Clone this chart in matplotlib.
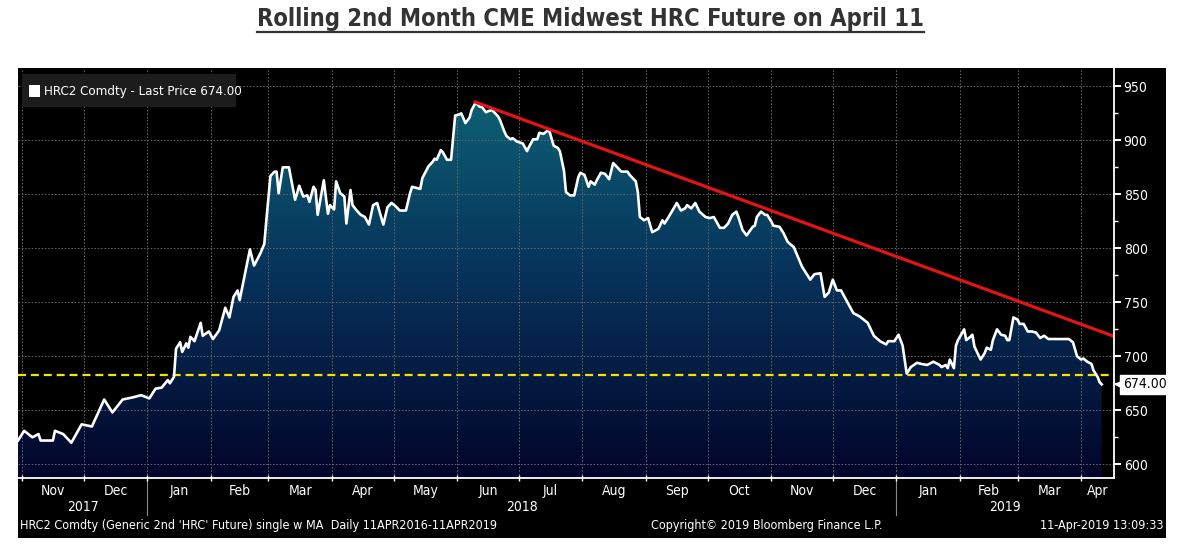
import matplotlib.pyplot as plt
import matplotlib.dates as mdates
import matplotlib.transforms as mtransforms
import numpy as np
import pandas as pd
from matplotlib.colors import LinearSegmentedColormap
from matplotlib.patches import Polygon, Rectangle
from matplotlib.lines import Line2D

plt.rcParams['font.family'] = ['DejaVu Sans']
plt.rcParams['font.stretch'] = 'condensed'

# HRC2 Comdty last price
dates = [
    '2017-10-30', '2017-11-02', '2017-11-06', '2017-11-09', '2017-11-10', '2017-11-16', '2017-11-17',
    '2017-11-21', '2017-11-25', '2017-11-30', '2017-12-05', '2017-12-11', '2017-12-15', '2017-12-20',
    '2017-12-25', '2017-12-29', '2018-01-02', '2018-01-05', '2018-01-08', '2018-01-11', '2018-01-12',
    '2018-01-14', '2018-01-15', '2018-01-17', '2018-01-18', '2018-01-20', '2018-01-21', '2018-01-22',
    '2018-01-24', '2018-01-27', '2018-01-28', '2018-01-31', '2018-02-02', '2018-02-05', '2018-02-08',
    '2018-02-10', '2018-02-12', '2018-02-14', '2018-02-15', '2018-02-20', '2018-02-22', '2018-02-25',
    '2018-02-27', '2018-02-28', '2018-03-02', '2018-03-04', '2018-03-05', '2018-03-06', '2018-03-08',
    '2018-03-11', '2018-03-14', '2018-03-15', '2018-03-16', '2018-03-18', '2018-03-20', '2018-03-21',
    '2018-03-23', '2018-03-24', '2018-03-25', '2018-03-28', '2018-03-30', '2018-03-31', '2018-04-02',
    '2018-04-03', '2018-04-05', '2018-04-07', '2018-04-08', '2018-04-10', '2018-04-11', '2018-04-13',
    '2018-04-15', '2018-04-17', '2018-04-19', '2018-04-21', '2018-04-23', '2018-04-24', '2018-04-26',
    '2018-04-28', '2018-04-30', '2018-05-02', '2018-05-04', '2018-05-07', '2018-05-09', '2018-05-10',
    '2018-05-14', '2018-05-15', '2018-05-18', '2018-05-20', '2018-05-21', '2018-05-22', '2018-05-24',
    '2018-05-25', '2018-05-27', '2018-05-29', '2018-05-31', '2018-06-02', '2018-06-03', '2018-06-05',
    '2018-06-07', '2018-06-08', '2018-06-10', '2018-06-12', '2018-06-13', '2018-06-15', '2018-06-16',
    '2018-06-18', '2018-06-21', '2018-06-22', '2018-06-24', '2018-06-25', '2018-06-27', '2018-06-28',
    '2018-06-30', '2018-07-03', '2018-07-05', '2018-07-06', '2018-07-08', '2018-07-10', '2018-07-11',
    '2018-07-13', '2018-07-15', '2018-07-16', '2018-07-18', '2018-07-20', '2018-07-21', '2018-07-23',
    '2018-07-24', '2018-07-26', '2018-07-28', '2018-07-30', '2018-07-31', '2018-08-02', '2018-08-04',
    '2018-08-05', '2018-08-07', '2018-08-08', '2018-08-10', '2018-08-12', '2018-08-14', '2018-08-16',
    '2018-08-18', '2018-08-20', '2018-08-23', '2018-08-24', '2018-08-27', '2018-08-28', '2018-08-29',
    '2018-08-31', '2018-09-02', '2018-09-04', '2018-09-07', '2018-09-09', '2018-09-10', '2018-09-12',
    '2018-09-16', '2018-09-18', '2018-09-20', '2018-09-21', '2018-09-23', '2018-09-25', '2018-09-27',
    '2018-09-30', '2018-10-02', '2018-10-04', '2018-10-07', '2018-10-09', '2018-10-11', '2018-10-13',
    '2018-10-15', '2018-10-16', '2018-10-18', '2018-10-20', '2018-10-23', '2018-10-24', '2018-10-25',
    '2018-10-27', '2018-10-29', '2018-10-30', '2018-11-01', '2018-11-02', '2018-11-05', '2018-11-07',
    '2018-11-09', '2018-11-12', '2018-11-14', '2018-11-16', '2018-11-19', '2018-11-20', '2018-11-22',
    '2018-11-25', '2018-11-27', '2018-11-29', '2018-12-01', '2018-12-03', '2018-12-05', '2018-12-09',
    '2018-12-11', '2018-12-14', '2018-12-18', '2018-12-21', '2018-12-24', '2018-12-27', '2018-12-28',
    '2018-12-31', '2019-01-02', '2019-01-04', '2019-01-06', '2019-01-08', '2019-01-11', '2019-01-13',
    '2019-01-16', '2019-01-19', '2019-01-22', '2019-01-23', '2019-01-25', '2019-01-26', '2019-01-27',
    '2019-01-29', '2019-01-30', '2019-01-31', '2019-02-03', '2019-02-04', '2019-02-06', '2019-02-07',
    '2019-02-08', '2019-02-11', '2019-02-13', '2019-02-14', '2019-02-16', '2019-02-17', '2019-02-19',
    '2019-02-21', '2019-02-23', '2019-02-24', '2019-02-25', '2019-02-27', '2019-03-01', '2019-03-02',
    '2019-03-04', '2019-03-06', '2019-03-08', '2019-03-10', '2019-03-12', '2019-03-14', '2019-03-16',
    '2019-03-20', '2019-03-23', '2019-03-26', '2019-03-28', '2019-03-30', '2019-04-01', '2019-04-02',
    '2019-04-04', '2019-04-06', '2019-04-07', '2019-04-09', '2019-04-10', '2019-04-11',
]
prices = [
    622, 631, 625, 628, 622, 622, 631,
    628, 620, 637, 635, 660, 648, 660,
    662, 664, 661, 670, 671, 678, 675,
    681, 707, 713, 704, 712, 708, 718,
    714, 731, 719, 723, 716, 724, 745,
    736, 755, 761, 752, 799, 784, 795,
    804, 826, 867, 871, 871, 851, 875,
    875, 845, 851, 858, 848, 849, 843,
    857, 854, 831, 863, 832, 840, 836,
    862, 851, 848, 823, 854, 840, 835,
    831, 829, 822, 840, 842, 835, 822,
    838, 842, 839, 835, 835, 851, 857,
    855, 865, 876, 880, 883, 882, 891,
    889, 882, 882, 923, 924, 925, 916,
    921, 928, 935, 931, 931, 926, 927,
    928, 922, 918, 908, 904, 901, 902,
    899, 897, 890, 894, 901, 901, 907,
    906, 909, 908, 895, 893, 890, 872,
    852, 849, 849, 866, 870, 868, 857,
    862, 859, 863, 870, 869, 864, 879,
    875, 871, 871, 868, 862, 852, 829,
    826, 828, 815, 818, 826, 823, 829,
    842, 835, 837, 840, 837, 842, 834,
    829, 828, 829, 819, 819, 823, 831,
    834, 829, 817, 812, 820, 821, 829,
    834, 831, 831, 825, 821, 820, 814,
    806, 801, 792, 783, 774, 771, 776,
    777, 755, 759, 771, 761, 761, 747,
    740, 737, 731, 719, 714, 711, 714,
    714, 720, 710, 684, 690, 694, 693,
    692, 695, 692, 690, 692, 689, 697,
    689, 710, 715, 725, 715, 718, 720,
    709, 697, 703, 708, 706, 715, 725,
    720, 719, 715, 715, 736, 734, 730,
    730, 723, 723, 722, 717, 719, 716,
    716, 716, 716, 713, 700, 697, 698,
    695, 693, 687, 681, 676, 674,
]

trend_dates = ['2018-06-09', '2019-04-17']
trend_prices = [936, 718.5]
support_level = 683
last_price = 674.00

x_start, x_end = '2017-10-30', '2019-04-17'
y_min, y_max = 587.3, 967
y_ticks = [600, 650, 700, 750, 800, 850, 900, 950]
y_minor = [625, 675, 725, 775, 825, 875, 925]

title = 'Rolling 2nd Month CME Midwest HRC Future on April 11'
legend_text = 'HRC2 Comdty - Last Price 674.00'
footer_left = "HRC2 Comdty (Generic 2nd 'HRC' Future) single w MA  Daily 11APR2016-11APR2019"
footer_mid = 'Copyright\u00a9 2019 Bloomberg Finance L.P.'
footer_right = '11-Apr-2019 13:09:33'

W, H = 1181, 548


def fx(px):
    return px / W


def fy(py):
    return 1 - py / H


fig = plt.figure(figsize=(W / 100, H / 100), dpi=100)
fig.patch.set_facecolor('white')

# black terminal panel behind the chart
fig.patches.append(Rectangle((fx(18), fy(538)), fx(1166) - fx(18), fy(68) - fy(538),
                             transform=fig.transFigure, facecolor='black', edgecolor='none', zorder=-5))

ax = fig.add_axes([fx(18), fy(478), fx(1114) - fx(18), fy(68) - fy(478)])
ax.set_facecolor('black')

x = mdates.date2num(pd.to_datetime(dates))
xl = mdates.date2num(pd.to_datetime([x_start, x_end]))

# gradient area under the price line
cmap = LinearSegmentedColormap.from_list('bbg', ['#03042a', '#07325a', '#0e6878'])
grad = np.linspace(0, 1, 256).reshape(-1, 1)
im = ax.imshow(grad, cmap=cmap, origin='lower', aspect='auto',
               extent=[x[0], x[-1], y_min, y_max], zorder=1)
poly = Polygon(np.column_stack([np.r_[x, x[-1], x[0]], np.r_[prices, y_min, y_min]]),
               closed=True, facecolor='none', edgecolor='none')
ax.add_patch(poly)
im.set_clip_path(poly)

ax.plot(x, prices, color='white', lw=1.9, zorder=4, solid_joinstyle='round')
ax.axhline(support_level, color='#f2e600', lw=1.6, dashes=(3.6, 2.2), zorder=3)
ax.plot(mdates.date2num(pd.to_datetime(trend_dates)), trend_prices, color='#e41414', lw=2.3,
        zorder=5, solid_capstyle='butt')

ax.set_xlim(xl[0], xl[1])
ax.set_ylim(y_min, y_max)

# month boundaries and centred month labels
month_starts = pd.date_range('2017-11-01', '2019-04-01', freq='MS')
ms = mdates.date2num(month_starts)
centers = (ms + np.r_[ms[1:], xl[1]]) / 2
ax.set_xticks(ms)
ax.set_xticklabels([])
ax.set_xticks(centers, minor=True)
ax.set_xticklabels([d.strftime('%b') for d in month_starts], minor=True)
ax.tick_params(axis='x', which='major', direction='inout', length=5, color='white', width=1)
ax.tick_params(axis='x', which='minor', length=0, pad=4, labelsize=10, labelcolor='white')

ax.yaxis.tick_right()
ax.set_yticks(y_ticks)
ax.set_yticks(y_minor, minor=True)
ax.set_yticklabels([str(v) for v in y_ticks])
ax.tick_params(axis='y', which='major', direction='out', length=5, width=1.4, color='white',
               labelcolor='white', labelsize=10, pad=2)
ax.tick_params(axis='y', which='minor', direction='out', length=3, width=1, color='white')

ax.grid(which='major', color='#666666', lw=0.7, linestyle=(0, (1.6, 1.8)), zorder=2)
ax.set_axisbelow(False)

for side in ['left', 'top']:
    ax.spines[side].set_visible(False)
for side in ['bottom', 'right']:
    ax.spines[side].set_color('white')
    ax.spines[side].set_linewidth(1.3)
    ax.spines[side].set_zorder(6)

# years under month labels, with separators at year changes
trans = mtransforms.blended_transform_factory(ax.transData, ax.transAxes)
year_starts = mdates.date2num(pd.to_datetime(['2018-01-01', '2019-01-01']))
bounds = np.r_[xl[0], year_starts, xl[1]]
for label, a, b in zip(['2017', '2018', '2019'], bounds[:-1], bounds[1:]):
    ax.text((a + b) / 2, -0.071, label, transform=trans, ha='center', va='center',
            color='white', fontsize=10)
for ys in year_starts:
    ax.add_line(Line2D([ys, ys], [-0.005, -0.09], transform=trans, color='#8a8a8a', lw=0.8,
                       clip_on=False))

# last price tag on the right axis
tag_trans = mtransforms.blended_transform_factory(ax.transAxes, ax.transData)
ax.text(1.008, last_price, f'{last_price:.2f}', transform=tag_trans, ha='left', va='center',
        fontsize=10, color='black',
        bbox=dict(boxstyle='square,pad=0.18', fc='white', ec='white'), zorder=7)
ax.plot([1.005], [last_price], marker='<', color='white', ms=6, transform=tag_trans,
        clip_on=False, zorder=7)

# legend box
fig.patches.append(Rectangle((fx(22), fy(107)), fx(236) - fx(22), fy(74) - fy(107),
                             transform=fig.transFigure, facecolor='#1c1c1c', edgecolor='none',
                             zorder=10))
fig.patches.append(Rectangle((fx(29), fy(97)), fx(40) - fx(29), fy(85) - fy(97),
                             transform=fig.transFigure, facecolor='white', edgecolor='none',
                             zorder=11))
fig.text(fx(44), fy(91), legend_text, ha='left', va='center', color='white', fontsize=9.5,
         zorder=11)

# footer
fig.text(fx(20), fy(525), footer_left, ha='left', va='center', color='white', fontsize=9)
fig.text(fx(651), fy(525), footer_mid, ha='left', va='center', color='white', fontsize=9)
fig.text(fx(1163), fy(525), footer_right, ha='right', va='center', color='white', fontsize=9)

# underlined title
t = fig.text(0.5, fy(19), title, ha='center', va='center', color='#333333', fontsize=17,
             fontweight='bold')
fig.canvas.draw()
bb = t.get_window_extent()
fig.add_artist(Line2D([bb.x0 / W, bb.x1 / W], [(bb.y0 - 1) / H] * 2, transform=fig.transFigure,
                      color='#333333', lw=1.6))

fig.savefig('out.png', dpi=100)
